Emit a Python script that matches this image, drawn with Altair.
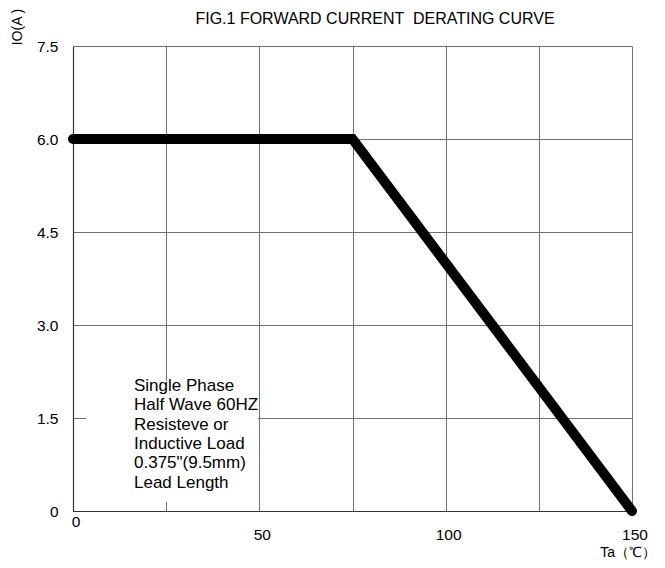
import altair as alt
import pandas as pd

ta = [0, 75, 150]
io = [6.0, 6.0, 0.0]
x_grid = [0, 25, 50, 75, 100, 125, 150]
x_labels = [0, 50, 100, 150]
y_ticks = [0, 1.5, 3.0, 4.5, 6.0, 7.5]
title = "FIG.1 FORWARD CURRENT \u00a0DERATING CURVE"
note_lines = ["Single Phase", "Half Wave 60HZ", "Resisteve or",
              "Inductive Load", "0.375\"(9.5mm)", "Lead Length"]

FONT = "Liberation Sans"
W, H = 559, 465

xs = alt.Scale(domain=[0, 150], nice=False, zero=False)
ys = alt.Scale(domain=[0, 7.5], nice=False, zero=False)

curve = pd.DataFrame({"ta": ta, "io": io})

base = alt.Chart(curve).encode(
    x=alt.X("ta:Q", scale=xs,
            axis=alt.Axis(values=x_grid, labels=False, ticks=False, title=None,
                          grid=True, gridColor="#707070", gridWidth=1,
                          domainColor="#333333", domainWidth=1.2)),
    y=alt.Y("io:Q", scale=ys,
            axis=alt.Axis(values=y_ticks, ticks=False, title=None, grid=True,
                          gridColor="#707070", gridWidth=1,
                          labelExpr="datum.value == 0 ? '0' : format(datum.value, '.1f')",
                          labelFont=FONT, labelFontSize=15.5, labelColor="#000000",
                          labelPadding=15, domainColor="#333333", domainWidth=1.2)),
)

line = base.mark_line(color="#000000", strokeWidth=10, strokeCap="round",
                      strokeJoin="miter")

box = alt.Chart(pd.DataFrame({"a": [3.5], "b": [49.6], "c": [0.15], "d": [2.1]})).mark_rect(
    color="white").encode(x=alt.X("a:Q", scale=xs), x2="b:Q",
                          y=alt.Y("c:Q", scale=ys), y2="d:Q")

note = alt.Chart(pd.DataFrame({"k": [0]})).mark_text(
    text=note_lines, align="left", baseline="top", font=FONT, fontSize=17,
    lineHeight=19.3, color="#000000").encode(x=alt.value(61), y=alt.value(332))

xl0 = alt.Chart(pd.DataFrame({"v": x_labels[:1]})).mark_text(
    font=FONT, fontSize=15.5, color="#000000", dx=3, baseline="middle").encode(
    x=alt.X("v:Q", scale=xs), y=alt.value(H + 11), text="v:Q")
xl = alt.Chart(pd.DataFrame({"v": x_labels[1:]})).mark_text(
    font=FONT, fontSize=15.5, color="#000000", dx=3, baseline="middle").encode(
    x=alt.X("v:Q", scale=xs), y=alt.value(H + 24), text="v:Q")

ttl = alt.Chart(pd.DataFrame({"k": [0]})).mark_text(
    text=title, font=FONT, fontSize=16, color="#000000", baseline="middle").encode(
    x=alt.value(302), y=alt.value(-27))
ylab = alt.Chart(pd.DataFrame({"k": [0]})).mark_text(
    text="IO(A )", font=FONT, fontSize=14, color="#000000", angle=270,
    baseline="middle").encode(x=alt.value(-55), y=alt.value(-19))
xlab = alt.Chart(pd.DataFrame({"k": [0]})).mark_text(
    text="Ta\uff08\u2103\uff09", font=FONT, fontSize=14, color="#000000",
    align="right", baseline="middle").encode(x=alt.value(583), y=alt.value(H + 42))

chart = alt.layer(base.mark_line(opacity=0), box, line, note, xl0, xl, ttl, ylab, xlab).properties(
    width=W, height=H, autosize=alt.AutoSizeParams(type="none"),
    padding={"left": 65, "top": 38, "right": 25, "bottom": 50},
).configure_view(stroke="#333333", strokeWidth=1.2).configure(background="white")

chart.save("out.html", embed_options={"renderer": "svg", "actions": False})
